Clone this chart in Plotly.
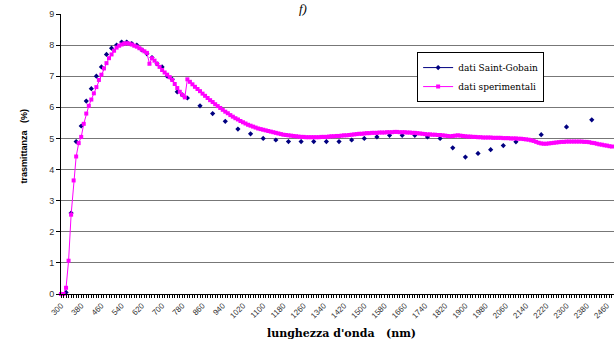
import plotly.graph_objects as go

# Wavelength grid of the measured spectrum (nm), 10 nm step
wl_exp = list(range(300, 2510, 10))

# Measured transmittance (%) on wl_exp
t_exp = [
    0.00, 0.00, 0.20, 1.07, 2.55, 3.65, 4.42, 4.85, 5.05, 5.47,   # 300-390
    5.80, 6.05, 6.25, 6.45, 6.65, 6.88, 7.05, 7.25, 7.42, 7.58,   # 400-490
    7.70, 7.82, 7.92, 7.98, 8.02, 8.05, 8.06, 8.05, 8.02, 7.98,   # 500-590
    7.95, 7.90, 7.85, 7.80, 7.75, 7.40, 7.58, 7.50, 7.40, 7.30,   # 600-690
    7.20, 7.12, 7.05, 6.97, 6.88, 6.75, 6.62, 6.50, 6.40, 6.32,   # 700-790
    6.90, 6.82, 6.74, 6.66, 6.59, 6.52, 6.44, 6.37, 6.30, 6.23,   # 800-890
    6.17, 6.10, 6.04, 5.98, 5.92, 5.86, 5.81, 5.75, 5.70, 5.65,   # 900-990
    5.61, 5.56, 5.52, 5.48, 5.44, 5.41, 5.38, 5.35, 5.32, 5.30,   # 1000-1090
    5.28, 5.26, 5.24, 5.22, 5.20, 5.18, 5.16, 5.14, 5.12, 5.11,   # 1100-1190
    5.10, 5.09, 5.08, 5.07, 5.06, 5.05, 5.05, 5.04, 5.04, 5.04,   # 1200-1290
    5.04, 5.04, 5.04, 5.05, 5.05, 5.05, 5.06, 5.07, 5.07, 5.08,   # 1300-1390
    5.08, 5.09, 5.10, 5.10, 5.11, 5.12, 5.13, 5.14, 5.15, 5.15,   # 1400-1490
    5.16, 5.17, 5.17, 5.18, 5.18, 5.18, 5.19, 5.19, 5.19, 5.20,   # 1500-1590
    5.20, 5.20, 5.21, 5.21, 5.20, 5.20, 5.20, 5.19, 5.19, 5.18,   # 1600-1690
    5.18, 5.17, 5.16, 5.15, 5.14, 5.13, 5.13, 5.12, 5.12, 5.11,   # 1700-1790
    5.11, 5.10, 5.09, 5.08, 5.07, 5.08, 5.09, 5.10, 5.09, 5.08,   # 1800-1890
    5.07, 5.06, 5.06, 5.05, 5.05, 5.04, 5.04, 5.03, 5.03, 5.03,   # 1900-1990
    5.03, 5.02, 5.02, 5.02, 5.02, 5.01, 5.01, 5.01, 5.00, 5.00,   # 2000-2090
    5.00, 4.99, 4.99, 4.98, 4.97, 4.96, 4.94, 4.92, 4.89, 4.86,   # 2100-2190
    4.84, 4.83, 4.83, 4.84, 4.85, 4.86, 4.87, 4.88, 4.89, 4.89,   # 2200-2290
    4.90, 4.90, 4.90, 4.90, 4.90, 4.90, 4.90, 4.89, 4.89, 4.88,   # 2300-2390
    4.86, 4.85, 4.83, 4.81, 4.80, 4.78, 4.77, 4.75, 4.74, 4.72,   # 2400-2490
    4.71,                                                         # 2500
]

# Manufacturer (Saint-Gobain) transmittance (%)
wl_sg = [300, 320, 340, 360, 380, 400, 420, 440, 460, 480, 500, 520, 540,
         560, 580, 600, 620, 640, 660, 680, 700, 720, 740, 760, 780, 800,
         850, 900, 950, 1000, 1050, 1100, 1150, 1200, 1250, 1300, 1350,
         1400, 1450, 1500, 1550, 1600, 1650, 1700, 1750, 1800, 1850, 1900,
         1950, 2000, 2050, 2100, 2200, 2300, 2400, 2500]
t_sg = [0.00, 0.05, 2.60, 4.90, 5.40, 6.20, 6.60, 7.00, 7.30, 7.70, 7.90,
        8.00, 8.10, 8.10, 8.05, 8.00, 7.85, 7.72, 7.60, 7.40, 7.30, 7.00,
        6.90, 6.50, 6.40, 6.30, 6.05, 5.80, 5.55, 5.30, 5.15, 5.00, 4.95,
        4.90, 4.90, 4.90, 4.90, 4.90, 4.95, 5.00, 5.05, 5.10, 5.10, 5.10,
        5.05, 5.00, 4.70, 4.40, 4.52, 4.64, 4.77, 4.89, 5.12, 5.37, 5.60,
        5.85]

# Category labels on the wavelength axis
x_tick_labels = [300, 380, 460, 540, 620, 700, 780, 860, 940, 1020, 1100,
                 1180, 1260, 1340, 1420, 1500, 1580, 1660, 1740, 1820, 1900,
                 1980, 2060, 2140, 2220, 2300, 2380, 2460]
y_ticks = [0, 1, 2, 3, 4, 5, 6, 7, 8, 9]

# Place the sparse manufacturer values on the shared 10 nm grid; empty
# cells stay as gaps so isolated points are not joined by the line.
sg_lookup = dict(zip(wl_sg, t_sg))
t_sg_grid = [sg_lookup.get(w) for w in wl_exp]

fig = go.Figure()
fig.add_trace(go.Scatter(
    x=wl_exp, y=t_sg_grid, name="dati Saint-Gobain",
    mode="lines+markers", connectgaps=False, cliponaxis=False,
    line=dict(color="#000080", width=1),
    marker=dict(symbol="diamond", size=4, color="#000080"),
))
fig.add_trace(go.Scatter(
    x=wl_exp, y=t_exp, name="dati sperimentali",
    mode="lines+markers", cliponaxis=False,
    line=dict(color="#FF00FF", width=1),
    marker=dict(symbol="square", size=4, color="#FF00FF"),
))

fig.update_layout(
    width=614, height=343,
    margin=dict(l=61, r=0, t=14, b=49),
    paper_bgcolor="white", plot_bgcolor="white",
    showlegend=True,
    legend=dict(
        x=0.644, y=0.864, xanchor="left", yanchor="top",
        bgcolor="white", bordercolor="black", borderwidth=1,
        font=dict(family="DejaVu Serif", size=9, color="black"),
        itemwidth=30, tracegroupgap=0,
    ),
    xaxis=dict(
        range=[300, 2488], showgrid=False, zeroline=False,
        showline=True, linecolor="black", linewidth=1,
        tickmode="array", tickvals=x_tick_labels,
        ticktext=[str(v) for v in x_tick_labels],
        ticks="outside", ticklen=3, tickcolor="black", tickwidth=1,
        tickangle=-45,
        tickfont=dict(family="Liberation Sans", size=8, color="#333333"),
        minor=dict(tickmode="linear", tick0=300, dtick=10,
                   ticks="outside", ticklen=3, tickcolor="black",
                   showgrid=False),
    ),
    yaxis=dict(
        range=[0, 9], tickmode="array", tickvals=y_ticks,
        showgrid=True, gridcolor="#777777", gridwidth=1,
        zeroline=False, showline=True, linecolor="black", linewidth=1,
        ticks="outside", ticklen=4, tickcolor="black",
        tickfont=dict(family="Liberation Sans", size=9, color="#333333"),
    ),
    annotations=[
        dict(text="trasmittanza   (%)", xref="paper", yref="paper",
             x=-0.067, y=0.53, textangle=-90, showarrow=False,
             xanchor="center", yanchor="middle",
             font=dict(family="Liberation Sans", size=9, color="black",
                       weight="bold")),
        dict(text="lunghezza d'onda   (nm)", xref="paper", yref="paper",
             x=0.508, y=-0.14, showarrow=False,
             xanchor="center", yanchor="middle",
             font=dict(family="DejaVu Serif", size=11, color="black",
                       weight="bold")),
        dict(text="<i>f)</i>", xref="paper", yref="paper",
             x=0.4376, y=1.05, showarrow=False, borderpad=0,
             xanchor="center", yanchor="top",
             font=dict(family="Liberation Serif", size=13, color="black")),
    ],
)

fig.write_html("out.html")
